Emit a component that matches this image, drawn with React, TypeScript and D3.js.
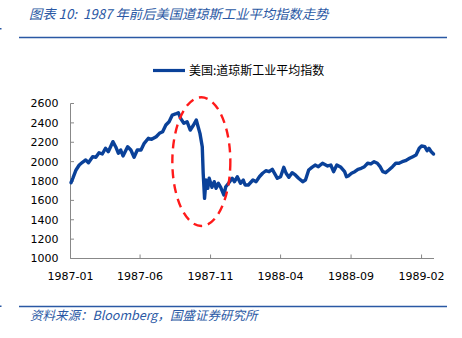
import React from "react";
import * as d3 from "d3";

const seriesName = "美国:道琼斯工业平均指数";
const titleText = "图表 10:  1987 年前后美国道琼斯工业平均指数走势";
const sourceText = "资料来源：Bloomberg，国盛证券研究所";

const dates: string[] = [
  "1987-01-02","1987-01-06","1987-01-13","1987-01-20","1987-01-27","1987-02-03","1987-02-09","1987-02-18",
  "1987-02-25","1987-03-04","1987-03-11","1987-03-18","1987-03-24","1987-04-03","1987-04-09","1987-04-15",
  "1987-04-20","1987-04-25","1987-05-05","1987-05-12","1987-05-19","1987-05-26","1987-06-03","1987-06-10",
  "1987-06-19","1987-06-26","1987-07-06","1987-07-13","1987-07-20","1987-07-27","1987-08-03","1987-08-10",
  "1987-08-17","1987-08-23","1987-08-28","1987-09-04","1987-09-11","1987-09-18","1987-09-25","1987-10-01",
  "1987-10-05","1987-10-09","1987-10-14","1987-10-16","1987-10-19","1987-10-22","1987-10-26","1987-10-29",
  "1987-11-04","1987-11-09","1987-11-13","1987-11-18","1987-11-23","1987-11-30","1987-12-04","1987-12-10",
  "1987-12-18","1987-12-23","1987-12-29","1988-01-05","1988-01-11","1988-01-15","1988-01-22","1988-02-01",
  "1988-02-08","1988-02-15","1988-02-22","1988-02-29","1988-03-07","1988-03-14","1988-03-18","1988-03-25",
  "1988-04-01","1988-04-08","1988-04-13","1988-04-19","1988-04-26","1988-05-03","1988-05-10","1988-05-19",
  "1988-05-25","1988-06-01","1988-06-08","1988-06-15","1988-06-22","1988-07-01","1988-07-12","1988-07-19",
  "1988-07-25","1988-08-01","1988-08-10","1988-08-18","1988-08-22","1988-08-26","1988-09-02","1988-09-09",
  "1988-09-16","1988-09-23","1988-09-30","1988-10-07","1988-10-14","1988-10-21","1988-10-28","1988-11-03",
  "1988-11-09","1988-11-15","1988-11-22","1988-11-30","1988-12-07","1988-12-14","1988-12-21","1988-12-28",
  "1989-01-06","1989-01-13","1989-01-20","1989-01-27","1989-02-01","1989-02-08","1989-02-13","1989-02-17",
  "1989-02-22","1989-02-27"
];

const values: number[] = [
  1782,1828,1914,1965,1993,2017,1989,2051,
  2045,2092,2079,2138,2102,2206,2154,2086,
  2120,2058,2154,2120,2045,2120,2120,2189,
  2241,2230,2257,2292,2309,2378,2412,2481,
  2492,2505,2447,2396,2412,2326,2378,2430,
  2360,2292,2154,1880,1621,1810,1725,1828,
  1735,1793,1725,1776,1735,1655,1741,1776,
  1828,1793,1844,1776,1810,1759,1759,1810,
  1793,1844,1880,1906,1896,1921,1886,1828,
  1844,1941,1880,1838,1886,1862,1828,1793,
  1810,1914,1941,1965,1948,1983,1955,1965,
  1896,1965,1941,1896,1844,1852,1880,1896,
  1921,1931,1948,1983,1976,1999,1983,1948,
  1896,1886,1914,1948,1983,1983,1999,2010,
  2034,2051,2068,2138,2161,2154,2113,2138,
  2102,2079
];

const yTicks: number[] = [1000, 1200, 1400, 1600, 1800, 2000, 2200, 2400, 2600];
const xTickLabels: string[] = ["1987-01", "1987-06", "1987-11", "1988-04", "1988-09", "1989-02"];

const W = 462;
const H = 338;
const left = 70.5;
const right = 434;
const top = 103.5;
const bottom = 258.5;

const parse = d3.timeParse("%Y-%m-%d");
const parseMonth = d3.timeParse("%Y-%m");

export default function App() {
  const x = d3
    .scaleTime()
    .domain([parse("1987-01-01")!, parse("1989-02-28")!])
    .range([left, right]);
  const y = d3.scaleLinear().domain([1000, 2600]).range([bottom, top]);

  const pts = dates.map((d, i) => ({ d: parse(d)!, v: values[i] }));
  const line = d3
    .line<{ d: Date; v: number }>()
    .x((p) => x(p.d))
    .y((p) => y(p.v));

  const axisColor = "#888888";
  const blue = "#2a58a4";
  const lineColor = "#0a4199";
  const tickFont = "DejaVu Sans, Verdana, sans-serif";

  // crash highlight ellipse
  const cx = x(parse("1987-10-12")!);
  const cy = y(2000);
  const rx = 29;
  const ry = (y(1000) - y(2600)) * 0.415;

  return (
    <svg
      width={W}
      height={H}
      viewBox={`0 0 ${W} ${H}`}
      style={{ position: "absolute", left: 0, top: 0, background: "#fff" }}
    >
      <rect x={0} y={0} width={W} height={H} fill="#fff" />
      {/* title */}
      <text
        x={29}
        y={19}
        fontSize={13.3}
        fontStyle="italic"
        fill={blue}
        xmlSpace="preserve"
        style={{ whiteSpace: "pre" }}
        fontFamily="'Noto Sans CJK SC', 'Liberation Sans', sans-serif"
      >
        {titleText}
      </text>
      <line x1={19} x2={447} y1={37.5} y2={37.5} stroke={blue} strokeWidth={1.6} />
      <rect x={0} y={28} width={1.5} height={1.5} fill={blue} />

      {/* legend */}
      <line x1={153} x2={185} y1={70.5} y2={70.5} stroke={lineColor} strokeWidth={3.2} />
      <text
        x={189}
        y={75}
        fontSize={12}
        fill="#000"
        fontFamily="'Noto Sans CJK SC', sans-serif"
      >
        {seriesName}
      </text>

      {/* axes */}
      <line x1={left} x2={left} y1={top} y2={bottom} stroke={axisColor} strokeWidth={1} />
      <line x1={left} x2={right} y1={bottom} y2={bottom} stroke={axisColor} strokeWidth={1} />
      {yTicks.map((t) => (
        <g key={t}>
          <line x1={left} x2={left + 3.5} y1={y(t)} y2={y(t)} stroke={axisColor} strokeWidth={1} />
          <text
            x={58.5}
            y={y(t)}
            dy="0.36em"
            textAnchor="end"
            fontSize={11}
            fill="#000"
            fontFamily={tickFont}
          >
            {t}
          </text>
        </g>
      ))}
      {xTickLabels.map((lab) => {
        const xx = x(parseMonth(lab)!);
        return (
          <g key={lab}>
            <line x1={xx} x2={xx} y1={bottom} y2={bottom - 4} stroke={axisColor} strokeWidth={1} />
            <text
              x={xx}
              y={280}
              textAnchor="middle"
              fontSize={11}
              fill="#000"
              fontFamily={tickFont}
            >
              {lab}
            </text>
          </g>
        );
      })}

      {/* series */}
      <path
        d={line(pts) || ""}
        fill="none"
        stroke={lineColor}
        strokeWidth={3.4}
        strokeLinejoin="round"
        strokeLinecap="round"
      />

      {/* highlight */}
      <ellipse
        cx={cx}
        cy={cy}
        rx={rx}
        ry={ry}
        fill="none"
        stroke="#ff1a1a"
        strokeWidth={2.4}
        strokeDasharray="9 6"
      />

      {/* footer */}
      <line x1={19} x2={447} y1={306.5} y2={306.5} stroke={blue} strokeWidth={1.6} />
      <rect x={0} y={305.5} width={1.5} height={1.5} fill={blue} />
      <text
        x={30}
        y={320}
        fontSize={12.5}
        fontStyle="italic"
        fill={blue}
        fontFamily="'Noto Sans CJK SC', 'Liberation Sans', sans-serif"
      >
        {sourceText}
      </text>
    </svg>
  );
}
